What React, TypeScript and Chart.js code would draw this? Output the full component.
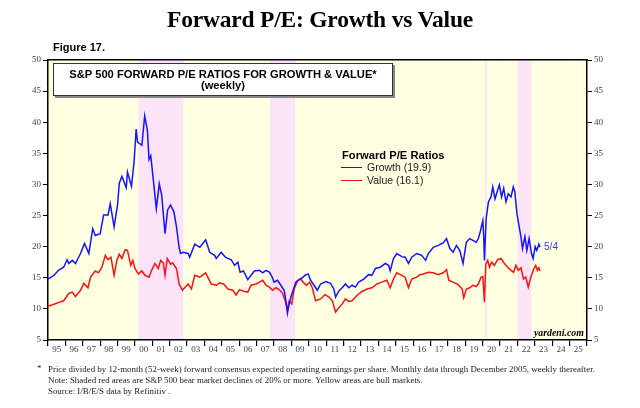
import { useEffect, useRef } from "react";
import { Chart, registerables } from "chart.js";

Chart.register(...registerables);

// weekly/monthly readings, as decimal years
const growthDates = [
  1995.0, 1995.35, 1995.6, 1995.9, 1996.1, 1996.2, 1996.4, 1996.58, 1996.87, 1997.1,
  1997.35, 1997.57, 1997.72, 1998.0, 1998.2, 1998.45, 1998.58, 1998.8, 1999.0, 1999.1,
  1999.25, 1999.5, 1999.57, 1999.8, 1999.95, 2000.07, 2000.15, 2000.4, 2000.56, 2000.72,
  2000.81, 2000.91, 2001.06, 2001.23, 2001.4, 2001.54, 2001.63, 2001.73, 2001.88, 2002.05,
  2002.24, 2002.39, 2002.54, 2002.62, 2002.77, 2003.06, 2003.15, 2003.44, 2003.73, 2004.07,
  2004.3, 2004.58, 2004.68, 2004.96, 2005.2, 2005.54, 2005.73, 2005.92, 2006.05, 2006.24,
  2006.49, 2006.68, 2006.87, 2007.16, 2007.35, 2007.54, 2007.73, 2007.88, 2008.0, 2008.2,
  2008.39, 2008.58, 2008.68, 2008.77, 2008.87, 2008.97, 2009.1, 2009.25, 2009.44, 2009.63,
  2009.82, 2009.97, 2010.1, 2010.3, 2010.49, 2010.68, 2010.97, 2011.25, 2011.44, 2011.54,
  2011.73, 2011.92, 2012.11, 2012.3, 2012.49, 2012.68, 2012.87, 2013.16, 2013.44, 2013.63,
  2013.83, 2014.11, 2014.4, 2014.59, 2014.68, 2014.87, 2015.06, 2015.35, 2015.54, 2015.73,
  2015.92, 2016.21, 2016.49, 2016.72, 2016.87, 2017.16, 2017.44, 2017.73, 2017.92, 2018.11,
  2018.3, 2018.49, 2018.68, 2018.87, 2019.06, 2019.25, 2019.44, 2019.63, 2019.75, 2019.86,
  2020.01, 2020.06, 2020.1, 2020.2, 2020.33, 2020.48, 2020.58, 2020.71, 2020.83, 2020.96,
  2021.09, 2021.21, 2021.34, 2021.47, 2021.63, 2021.76, 2021.85, 2021.97, 2022.1, 2022.2,
  2022.29, 2022.43, 2022.54, 2022.67, 2022.81, 2022.9, 2023.02, 2023.11, 2023.23, 2023.3,
];
const growthPE = [
  14.8, 15.4, 16.2, 16.7, 17.9, 17.3, 17.8, 17.3, 18.9, 20.5,
  18.9, 22.9, 21.8, 22.1, 25.1, 25.1, 26.9, 23.2, 26.7, 30.2,
  31.3, 29.5, 32.0, 29.7, 33.6, 38.9, 36.8, 36.3, 41.0, 38.6,
  34.0, 34.6, 30.7, 26.1, 30.1, 28.3, 25.3, 22.1, 25.9, 26.7,
  25.6, 23.2, 19.9, 18.9, 19.1, 18.9, 18.3, 20.4, 19.9, 21.1,
  19.1, 18.6, 18.1, 19.1, 18.3, 17.9, 17.0, 17.5, 15.9, 16.1,
  14.7, 15.4, 16.1, 16.2, 15.8, 16.2, 15.9, 15.2, 14.3, 14.6,
  13.8, 13.0, 11.3, 9.3, 10.8, 11.9, 13.0, 14.3, 14.7, 15.0,
  15.5, 15.6, 14.6, 13.8, 13.0, 14.0, 14.4, 14.1, 13.2, 11.9,
  12.9, 13.4, 14.0, 13.4, 13.8, 13.5, 14.3, 14.8, 15.5, 15.4,
  16.5, 16.7, 17.3, 17.0, 16.1, 18.1, 18.9, 18.4, 18.3, 17.3,
  18.3, 18.9, 18.6, 17.8, 18.9, 19.9, 20.2, 20.6, 21.3, 19.7,
  19.1, 20.2, 19.4, 17.3, 20.7, 21.3, 21.0, 20.7, 21.3, 22.4,
  24.2, 21.6, 17.8, 24.5, 27.2, 28.0, 29.6, 27.7, 28.8, 29.9,
  28.0, 29.4, 27.2, 28.5, 28.0, 29.6, 28.8, 25.3, 23.2, 21.6,
  19.7, 21.6, 19.4, 21.3, 18.9, 18.1, 20.0, 19.4, 20.4, 19.9,
];

const valueDates = [
  1995.0, 1995.3, 1995.6, 1995.9, 1996.2, 1996.4, 1996.58, 1996.87, 1997.06, 1997.3,
  1997.45, 1997.72, 1997.9, 1998.1, 1998.3, 1998.45, 1998.62, 1998.8, 1998.96, 1999.1,
  1999.25, 1999.44, 1999.57, 1999.76, 1999.88, 2000.0, 2000.2, 2000.39, 2000.58, 2000.81,
  2000.96, 2001.15, 2001.34, 2001.48, 2001.63, 2001.73, 2001.86, 2002.05, 2002.16, 2002.39,
  2002.54, 2002.73, 2003.06, 2003.25, 2003.44, 2003.73, 2004.07, 2004.39, 2004.68, 2004.87,
  2005.1, 2005.35, 2005.63, 2005.82, 2006.01, 2006.3, 2006.49, 2006.68, 2006.97, 2007.16,
  2007.35, 2007.54, 2007.73, 2007.92, 2008.11, 2008.3, 2008.49, 2008.64, 2008.77, 2008.87,
  2009.02, 2009.16, 2009.35, 2009.54, 2009.67, 2009.86, 2010.05, 2010.2, 2010.39, 2010.68,
  2010.93, 2011.16, 2011.35, 2011.54, 2011.73, 2011.92, 2012.11, 2012.3, 2012.49, 2012.78,
  2013.06, 2013.35, 2013.63, 2013.92, 2014.2, 2014.49, 2014.68, 2014.87, 2015.06, 2015.35,
  2015.54, 2015.73, 2015.92, 2016.21, 2016.4, 2016.59, 2016.87, 2017.16, 2017.44, 2017.73,
  2017.92, 2018.05, 2018.3, 2018.59, 2018.82, 2018.91, 2019.06, 2019.25, 2019.44, 2019.63,
  2019.75, 2019.91, 2020.01, 2020.06, 2020.1, 2020.18, 2020.29, 2020.39, 2020.52, 2020.67,
  2020.86, 2021.05, 2021.25, 2021.44, 2021.63, 2021.78, 2021.91, 2022.05, 2022.2, 2022.35,
  2022.48, 2022.62, 2022.77, 2022.92, 2023.05, 2023.15, 2023.23, 2023.3,
];
const valuePE = [
  10.4, 10.7, 11.0, 11.3, 12.5, 12.7, 12.0, 13.0, 14.1, 13.4,
  15.1, 16.1, 15.8, 16.7, 18.6, 17.9, 18.3, 15.4, 17.8, 18.8,
  18.1, 19.5, 19.4, 17.0, 17.8, 16.5, 15.6, 16.1, 15.4, 15.1,
  16.2, 17.3, 16.5, 17.8, 17.4, 15.4, 18.1, 17.2, 17.4, 16.5,
  14.0, 13.0, 14.0, 13.2, 15.4, 15.1, 15.8, 14.0, 13.8, 14.2,
  14.0, 13.2, 13.0, 12.2, 13.1, 12.8, 12.7, 13.8, 14.0, 14.3,
  14.6, 13.8, 13.5, 13.0, 13.4, 13.1, 12.5, 11.3, 10.0, 11.3,
  10.8, 13.2, 14.5, 14.8, 14.3, 13.8, 14.3, 13.4, 11.3, 11.6,
  12.3, 11.9, 11.3, 9.5, 10.2, 10.8, 11.6, 11.2, 11.3, 12.2,
  12.8, 13.2, 13.4, 14.0, 14.3, 14.6, 13.4, 14.8, 15.8, 15.4,
  15.1, 13.4, 14.8, 15.1, 15.5, 15.6, 15.9, 15.8, 15.5, 15.8,
  16.3, 14.6, 14.3, 13.9, 13.2, 11.8, 13.2, 13.4, 13.8, 13.6,
  14.0, 15.1, 15.2, 12.9, 11.1, 17.2, 17.8, 16.7, 17.5, 17.0,
  17.9, 18.1, 17.3, 16.7, 16.2, 15.9, 17.0, 16.2, 16.6, 14.8,
  15.1, 13.5, 15.1, 16.3, 17.0, 16.2, 16.6, 16.1,
];

const bearStarts = [2000.2, 2007.78, 2020.13, 2022.0];
const bearEnds = [2002.78, 2009.2, 2020.23, 2022.8];

const yearTicks = Array.from({ length: 32 }, (_, i) => 1995 + i);
const lastLabel = "5/4";

const serif = "'Liberation Serif', 'Times New Roman', serif";
const sans = "'Liberation Sans', Arial, sans-serif";

const shadePlugin = {
  id: "shade",
  beforeDraw(chart: any) {
    const { ctx, chartArea: a, scales } = chart;
    ctx.save();
    ctx.fillStyle = "#FFFFE2";
    ctx.fillRect(a.left, a.top, a.right - a.left, a.bottom - a.top);
    ctx.fillStyle = "#FCE4F8";
    bearStarts.forEach((s, i) => {
      const x0 = scales.x.getPixelForValue(s);
      const x1 = scales.x.getPixelForValue(bearEnds[i]);
      ctx.fillRect(x0, a.top, Math.max(1, x1 - x0), a.bottom - a.top);
    });
    ctx.restore();
  },
};

const lastDatePlugin = {
  id: "lastDate",
  afterDatasetsDraw(chart: any) {
    const { ctx, scales } = chart;
    const n = growthDates.length - 1;
    const x = scales.x.getPixelForValue(growthDates[n]);
    const y = scales.y.getPixelForValue(growthPE[n]);
    ctx.save();
    ctx.fillStyle = "#3a3aff";
    ctx.font = `10px ${sans}`;
    ctx.textBaseline = "middle";
    ctx.fillText(lastLabel, x + 4, y);
    ctx.restore();
  },
};

export default function App() {
  const canvasRef = useRef<HTMLCanvasElement | null>(null);

  useEffect(() => {
    document.body.style.margin = "0";
    if (!canvasRef.current) {
      return;
    }

    const yTicks = {
      font: { family: serif, size: 9 },
      color: "#444",
      stepSize: 5,
      padding: 2,
    };

    const chart = new Chart(canvasRef.current, {
      type: "line",
      data: {
        datasets: [
          {
            label: "Growth",
            data: growthDates.map((d, i) => ({ x: d, y: growthPE[i] })),
            borderColor: "#1414ff",
            borderWidth: 1.5,
            pointRadius: 0,
            tension: 0,
          },
          {
            label: "Value",
            data: valueDates.map((d, i) => ({ x: d, y: valuePE[i] })),
            borderColor: "#ff1010",
            borderWidth: 1.5,
            pointRadius: 0,
            tension: 0,
          },
        ],
      },
      options: {
        animation: false,
        responsive: true,
        maintainAspectRatio: false,
        layout: { padding: { top: 60, left: 0, right: 0, bottom: 0 } },
        plugins: {
          legend: { display: false },
          tooltip: { enabled: false },
        },
        scales: {
          x: {
            type: "linear",
            min: 1995,
            max: 2026,
            afterBuildTicks: (s: any) => {
              s.ticks = yearTicks.map((v) => ({ value: v }));
            },
            afterFit: (s: any) => {
              s.height = 68;
            },
            ticks: {
              autoSkip: false,
              maxRotation: 0,
              labelOffset: 8.7,
              padding: -2,
              font: { family: serif, size: 9 },
              color: "#444",
              callback: (v: any) =>
                v < 2026 ? String(v % 100).padStart(2, "0") : "",
            },
            grid: { drawOnChartArea: false, color: "#000", tickLength: 6, lineWidth: 1.2 },
            border: { color: "#000", width: 1.5 },
          },
          xTop: {
            type: "linear",
            position: "top",
            min: 1995,
            max: 2026,
            afterFit: (s: any) => {
              s.height = 0;
            },
            ticks: { display: false },
            grid: { drawOnChartArea: false, drawTicks: false },
            border: { color: "#000", width: 1.5 },
          },
          y: {
            position: "left",
            min: 5,
            max: 50,
            afterFit: (s: any) => {
              s.width = 48;
            },
            ticks: yTicks,
            grid: { drawOnChartArea: false, color: "#000", tickLength: 5 },
            border: { color: "#000", width: 1.5 },
          },
          y2: {
            position: "right",
            min: 5,
            max: 50,
            afterFit: (s: any) => {
              s.width = 53;
            },
            ticks: yTicks,
            grid: { drawOnChartArea: false, color: "#000", tickLength: 5 },
            border: { color: "#000", width: 1.5 },
          },
        },
      },
      plugins: [shadePlugin, lastDatePlugin],
    });

    return () => {
      chart.destroy();
    };
  }, []);

  const abs = (s: any) => ({ position: "absolute" as const, whiteSpace: "nowrap" as const, ...s });

  return (
    <div style={{ position: "relative", width: 640, height: 408, background: "#fff", overflow: "hidden" }}>
      <canvas ref={canvasRef} style={{ position: "absolute", left: 0, top: 0, width: 640, height: 408 }}></canvas>

      <div style={abs({ left: 0, width: 640, top: 6, textAlign: "center", fontFamily: serif, fontWeight: "bold", fontSize: 23.5, letterSpacing: -0.2 })}>
        Forward P/E: Growth vs Value
      </div>
      <div style={abs({ left: 53, top: 41, fontFamily: sans, fontWeight: "bold", fontSize: 11 })}>Figure 17.</div>

      <div
        style={abs({
          left: 53,
          top: 63,
          width: 340,
          height: 33,
          border: "1px solid #333",
          background: "#fff",
          boxShadow: "2px 2px 0 #888",
          fontFamily: sans,
          fontWeight: "bold",
          fontSize: 11.2,
          textAlign: "center",
          lineHeight: "11px",
          paddingTop: 5,
          boxSizing: "border-box",
        })}
      >
        S&amp;P 500 FORWARD P/E RATIOS FOR GROWTH &amp; VALUE*
        <br />
        (weekly)
      </div>

      <div style={abs({ left: 342, top: 149, fontFamily: sans, fontWeight: "bold", fontSize: 11.2 })}>Forward P/E Ratios</div>
      <div style={abs({ left: 341, top: 167, width: 21, height: 0, borderTop: "1.5px solid #1414ff" })}></div>
      <div style={abs({ left: 367, top: 161, fontFamily: sans, fontSize: 10.5, color: "#222" })}>Growth (19.9)</div>
      <div style={abs({ left: 341, top: 180, width: 21, height: 0, borderTop: "1.5px solid #ff1010" })}></div>
      <div style={abs({ left: 367, top: 174, fontFamily: sans, fontSize: 10.5, color: "#222" })}>Value (16.1)</div>

      <div style={abs({ left: 534, top: 327, fontFamily: serif, fontWeight: "bold", fontStyle: "italic", fontSize: 9.8 })}>yardeni.com</div>

      <div style={abs({ left: 37, top: 363, fontFamily: serif, fontSize: 8.9, lineHeight: "11px", color: "#222" })}>*</div>
      <div style={abs({ left: 48, top: 364, fontFamily: serif, fontSize: 8.9, lineHeight: "11px", color: "#222" })}>
        Price divided by 12-month (52-week) forward consensus expected operating earnings per share. Monthly data through December 2005, weekly thereafter.
        <br />
        Note: Shaded red areas are S&amp;P 500 bear market declines of 20% or more. Yellow areas are bull markets.
        <br />
        Source: I/B/E/S data by Refinitiv .
      </div>
    </div>
  );
}
